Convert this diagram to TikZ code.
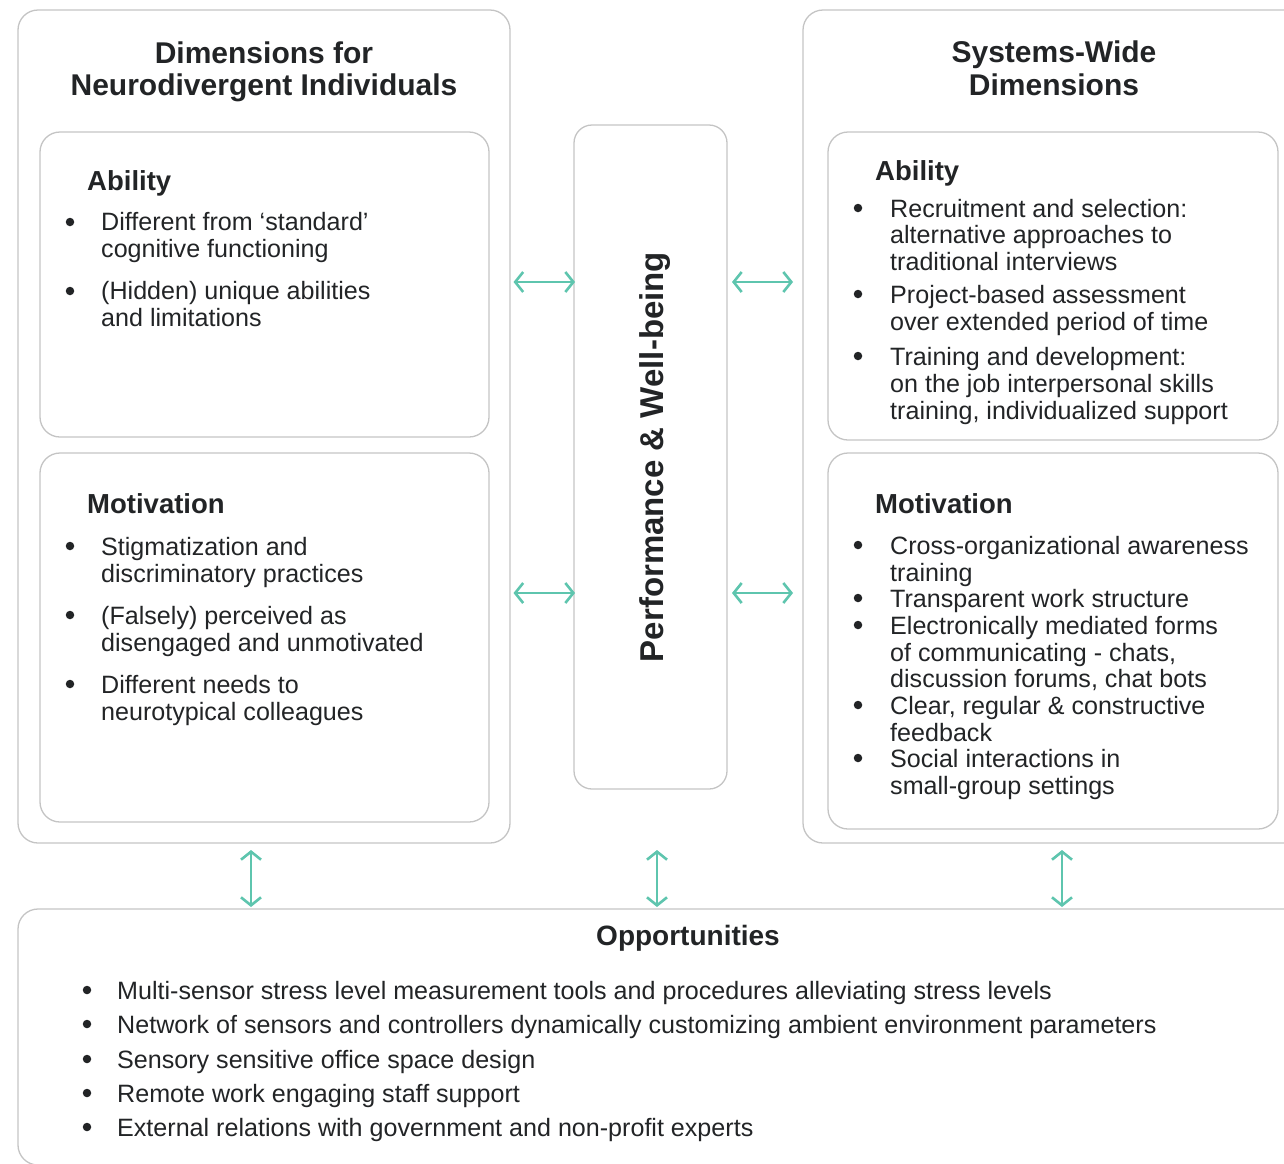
\documentclass[tikz,border=0pt]{standalone}
\usepackage{fontspec}
\setmainfont{Liberation Sans}
\usetikzlibrary{arrows.meta}
\definecolor{bordergray}{HTML}{C4C4C4}
\definecolor{ink}{HTML}{222426}
\definecolor{arrowteal}{HTML}{5EC5AE}
\newcommand\tline[4]{\node[txt] (#1) at (#2,#3) {#4};}
\newcommand\bul[3]{\node[bulletdot] (#1) at (#2,#3) {};}
\begin{document}
\begin{tikzpicture}[x=1pt,y=-1pt,
  box/.style={draw=bordergray, line width=1.3pt, rounded corners=20pt, anchor=north west, inner sep=0pt, outer sep=0pt},
  txt/.style={anchor=base west, inner sep=0pt, text=ink, font=\fontsize{25.1}{27}\selectfont},
  head/.style={anchor=base west, inner sep=0pt, text=ink, font=\fontsize{27.5}{30}\selectfont\bfseries},
  title/.style={anchor=base, inner sep=0pt, text=ink, font=\fontsize{30}{32}\selectfont\bfseries},
  bulletdot/.style={circle, fill=ink, minimum size=8.5pt, inner sep=0pt},
  arr/.style={draw=arrowteal, line width=2.6pt, {Straight Barb[length=8pt,width=20pt]}-{Straight Barb[length=8pt,width=20pt]}}]
\useasboundingbox (0,0) rectangle (1284,1163);
\clip (0,0) rectangle (1284,1163);

% boxes
\node[box, minimum width=492pt, minimum height=833pt] (oL) at (18,10) {};
\node[box, minimum width=530pt, minimum height=833pt] (oR) at (803,10) {};
\node[box, minimum width=1320pt, minimum height=256pt] (bot) at (18,909) {};
\node[box, minimum width=449pt, minimum height=305pt] (aL) at (40,132) {};
\node[box, minimum width=449pt, minimum height=369pt] (mL) at (40,453) {};
\node[box, minimum width=153pt, minimum height=664pt, rounded corners=18pt] (cen) at (574,125) {};
\node[box, minimum width=450pt, minimum height=308pt] (aR) at (828,132) {};
\node[box, minimum width=450pt, minimum height=376pt] (mR) at (828,453) {};

% titles
\node[title] (tL1) at (264,63) {Dimensions for};
\node[title] (tL2) at (264,95) {Neurodivergent Individuals};
\node[title] (tR1) at (1054,62) {Systems-Wide};
\node[title] (tR2) at (1054,95) {Dimensions};
\node[inner sep=0pt, text=ink, rotate=90, font=\fontsize{33}{35}\selectfont\bfseries] (ctext) at (655,457) {Performance \& Well-being};

% left ability
\node[head] (hLA) at (87,190) {Ability};
\bul{bL1}{70}{222}
\tline{L1a}{101}{230}{Different from ‘standard’}
\tline{L1b}{101}{257}{cognitive functioning}
\bul{bL2}{70}{291}
\tline{L2a}{101}{299}{(Hidden) unique abilities}
\tline{L2b}{101}{326}{and limitations}

% left motivation
\node[head] (hLM) at (87,513) {Motivation};
\bul{bL3}{70}{546}
\tline{L3a}{101}{555}{Stigmatization and}
\tline{L3b}{101}{582}{discriminatory practices}
\bul{bL4}{70}{615}
\tline{L4a}{101}{624}{(Falsely) perceived as}
\tline{L4b}{101}{651}{disengaged and unmotivated}
\bul{bL5}{70}{684}
\tline{L5a}{101}{693}{Different needs to}
\tline{L5b}{101}{720}{neurotypical colleagues}

% right ability
\node[head] (hRA) at (875,180) {Ability};
\bul{bR1}{858}{208}
\tline{R1a}{890}{217}{Recruitment and selection:}
\tline{R1b}{890}{243}{alternative approaches to}
\tline{R1c}{890}{270}{traditional interviews}
\bul{bR2}{858}{294}
\tline{R2a}{890}{303}{Project-based assessment}
\tline{R2b}{890}{330}{over extended period of time}
\bul{bR3}{858}{356}
\tline{R3a}{890}{365}{Training and development:}
\tline{R3b}{890}{392}{on the job interpersonal skills}
\tline{R3c}{890}{419}{training, individualized support}

% right motivation
\node[head] (hRM) at (875,513) {Motivation};
\bul{bR4}{858}{545}
\tline{R4a}{890}{554}{Cross-organizational awareness}
\tline{R4b}{890}{581}{training}
\bul{bR5}{858}{598}
\tline{R5a}{890}{607}{Transparent work structure}
\bul{bR6}{858}{625}
\tline{R6a}{890}{634}{Electronically mediated forms}
\tline{R6b}{890}{661}{of communicating - chats,}
\tline{R6c}{890}{687}{discussion forums, chat bots}
\bul{bR7}{858}{705}
\tline{R7a}{890}{714}{Clear, regular \& constructive}
\tline{R7b}{890}{741}{feedback}
\bul{bR8}{858}{758}
\tline{R8a}{890}{767}{Social interactions in}
\tline{R8b}{890}{794}{small-group settings}

% opportunities
\node[anchor=base, inner sep=0pt, text=ink, font=\fontsize{28}{30}\selectfont\bfseries] (hO) at (688,945) {Opportunities};
\bul{bO1}{87}{990}
\tline{O1}{117}{999}{Multi-sensor stress level measurement tools and procedures alleviating stress levels}
\bul{bO2}{87}{1024}
\tline{O2}{117}{1033}{Network of sensors and controllers dynamically customizing ambient environment parameters}
\bul{bO3}{87}{1059}
\tline{O3}{117}{1068}{Sensory sensitive office space design}
\bul{bO4}{87}{1093}
\tline{O4}{117}{1102}{Remote work engaging staff support}
\bul{bO5}{87}{1127}
\tline{O5}{117}{1136}{External relations with government and non-profit experts}

% arrows
\coordinate (yA) at (0,282);
\coordinate (yM) at (0,593);
\coordinate (x1) at (251,0);
\coordinate (x2) at (657,0);
\coordinate (x3) at (1062,0);
\draw[arr, shorten <=3.5pt, shorten >=-1pt] (oL.east |- yA) -- (cen.west |- yA);
\draw[arr, shorten <=3.5pt, shorten >=-1pt] (oL.east |- yM) -- (cen.west |- yM);
\draw[arr, shorten <=5pt, shorten >=10pt] (cen.east |- yA) -- (oR.west |- yA);
\draw[arr, shorten <=5pt, shorten >=10pt] (cen.east |- yM) -- (oR.west |- yM);
\draw[arr, shorten <=7pt, shorten >=2pt] (x1 |- oL.south) -- (x1 |- bot.north);
\draw[arr, shorten <=7pt, shorten >=2pt] (x2 |- oL.south) -- (x2 |- bot.north);
\draw[arr, shorten <=7pt, shorten >=2pt] (x3 |- oR.south) -- (x3 |- bot.north);
\end{tikzpicture}
\end{document}
